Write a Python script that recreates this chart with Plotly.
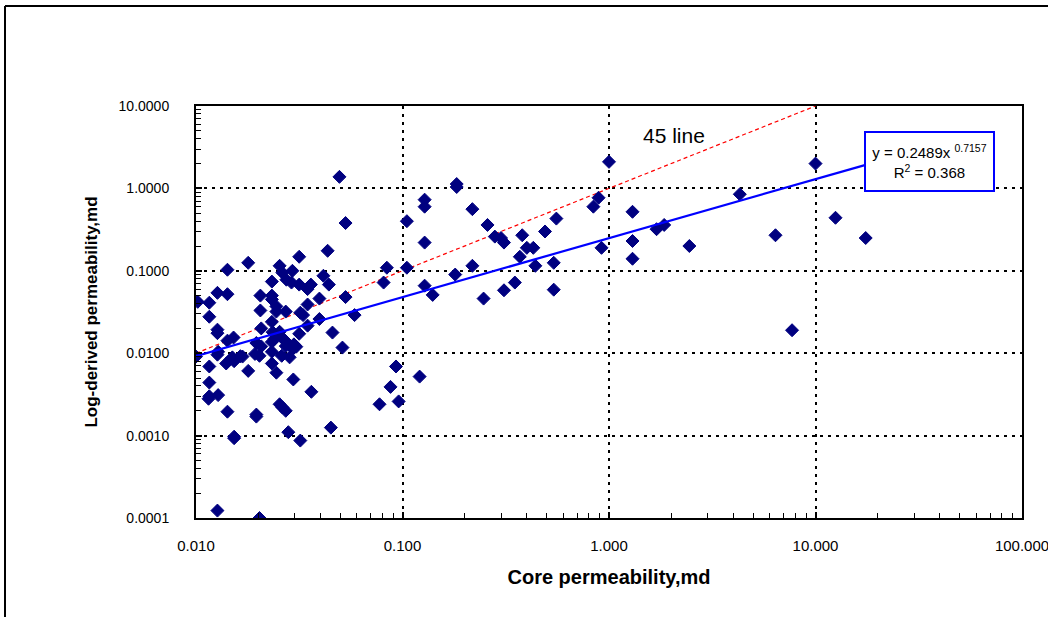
import numpy as np
import plotly.graph_objects as go

# ---- data ----
core_perm = [
    1.0, 10.0, 12.5, 17.5, 6.4, 7.7, 4.3, 2.45, 1.7, 1.85, 1.30, 1.30, 1.30,
    0.89, 0.84, 0.92, 0.183, 0.183, 0.128, 0.128, 0.105, 0.218, 0.258, 0.28, 0.30, 0.31,
    0.38, 0.40, 0.43, 0.49, 0.556, 0.37, 0.44, 0.54, 0.54, 0.35, 0.31, 0.247, 0.218, 0.18,
    0.128, 0.128, 0.14, 0.105,
    0.0495, 0.053, 0.0434, 0.0316, 0.0179, 0.0142, 0.084, 0.081, 0.0254, 0.0262, 0.0274,
    0.029, 0.0293, 0.0233, 0.0316, 0.0347, 0.036, 0.0414, 0.044, 0.0396,
    0.0127, 0.0142, 0.0102, 0.0116, 0.0205, 0.0233, 0.0233, 0.0245, 0.0245, 0.0205, 0.0272,
    0.0347, 0.032, 0.033, 0.0396, 0.053, 0.0586, 0.0116, 0.0127, 0.0127, 0.0142, 0.0152,
    0.0128, 0.015, 0.0153, 0.014, 0.0168, 0.0179, 0.0196, 0.0207, 0.0193, 0.0203, 0.0233,
    0.024, 0.0254, 0.027, 0.0233, 0.026, 0.0233, 0.0245, 0.0284, 0.0296, 0.0316, 0.0347,
    0.0458, 0.0512, 0.0296, 0.0362, 0.0116, 0.0116, 0.0116, 0.0115, 0.0128, 0.0142, 0.0196,
    0.0196, 0.0254, 0.0262, 0.0272, 0.0153, 0.0153, 0.028, 0.032, 0.045, 0.0774, 0.0875,
    0.093, 0.0958, 0.121, 0.0127, 0.0203,
    0.0233, 0.0207, 0.0235, 0.0265, 0.0272, 0.029, 0.0298, 0.0306, 0.0100, 0.0127, 0.0164,
]
log_perm = [
    2.1, 2.0, 0.44, 0.25, 0.27, 0.019, 0.85, 0.20, 0.32, 0.36, 0.52, 0.23, 0.14,
    0.77, 0.60, 0.19, 1.13, 1.04, 0.73, 0.60, 0.40, 0.56, 0.36, 0.26, 0.25, 0.22,
    0.27, 0.19, 0.19, 0.30, 0.43, 0.148, 0.115, 0.125, 0.059, 0.072, 0.058, 0.046, 0.115, 0.090,
    0.22, 0.066, 0.051, 0.109,
    1.38, 0.38, 0.175, 0.148, 0.125, 0.103, 0.109, 0.072, 0.115, 0.095, 0.078,
    0.072, 0.100, 0.074, 0.068, 0.060, 0.068, 0.087, 0.068, 0.046,
    0.054, 0.052, 0.042, 0.041, 0.050, 0.050, 0.045, 0.037, 0.032, 0.033, 0.032,
    0.039, 0.031, 0.029, 0.026, 0.048, 0.029, 0.0277, 0.0193, 0.0175, 0.0142, 0.0155,
    0.0104, 0.0089, 0.0080, 0.0075, 0.0091, 0.0061, 0.0133, 0.0121, 0.0098, 0.0093, 0.0137,
    0.0150, 0.0182, 0.0142, 0.0104, 0.0093, 0.0075, 0.0058, 0.0089, 0.0114, 0.0172, 0.0216,
    0.0178, 0.0117, 0.0048, 0.0034, 0.0069, 0.0044, 0.0030, 0.0028, 0.0031, 0.00195, 0.0018,
    0.0017, 0.0024, 0.0022, 0.0020, 0.00097, 0.00093, 0.0011, 0.00087, 0.00125, 0.0024, 0.0039,
    0.0069, 0.0026, 0.0052, 0.000123, 0.0001,
    0.024, 0.020, 0.018, 0.0148, 0.0122, 0.0119, 0.0128, 0.0120, 0.0091, 0.0096, 0.0092,
]

# power-law trendline shown on the chart: y = a * x^b
fit_a = 0.2489
fit_b = 0.7157
fit_r2 = 0.368
fit_x_range = [0.01, 17.5]

# 45-degree reference line
line45_x = [0.01, 10.0]

x_tick_vals = [0.01, 0.1, 1, 10, 100]
x_tick_text = ["0.010", "0.100", "1.000", "10.000", "100.000"]
y_tick_vals = [0.0001, 0.001, 0.01, 0.1, 1, 10]
y_tick_text = ["0.0001", "0.0010", "0.0100", "0.1000", "1.0000", "10.0000"]

FONT = "Liberation Sans, Arial, sans-serif"

fit_x = np.logspace(np.log10(fit_x_range[0]), np.log10(fit_x_range[1]), 200)
fit_y = fit_a * fit_x ** fit_b

fig = go.Figure()
fig.add_trace(go.Scatter(
    x=line45_x, y=line45_x, mode="lines",
    line=dict(color="#ff0000", width=1.2, dash="4px,3px"),
    showlegend=False, hoverinfo="skip",
))
fig.add_trace(go.Scatter(
    x=core_perm, y=log_perm, mode="markers",
    marker=dict(symbol="diamond", size=10, color="#000080",
                line=dict(color="#000080", width=1)),
    showlegend=False,
))
fig.add_trace(go.Scatter(
    x=fit_x, y=fit_y, mode="lines",
    line=dict(color="#0000ff", width=2.2),
    showlegend=False, hoverinfo="skip",
))

axis_common = dict(
    type="log",
    automargin=False,
    showline=True, linecolor="black", linewidth=2, mirror=True,
    showgrid=True, gridcolor="black", gridwidth=1.5, griddash="3px,5px",
    ticks="inside", ticklen=6, tickcolor="black", tickwidth=1.5,
    minor=dict(ticks="inside", ticklen=5, tickcolor="black", tickwidth=1.2,
               dtick="D1", showgrid=False),
    zeroline=False,
    ticklabeloverflow="allow",
)

fig.update_xaxes(
    **axis_common,
    range=[-2, 2],
    tickmode="array", tickvals=x_tick_vals, ticktext=x_tick_text,
    tickfont=dict(family=FONT, size=15, color="black"),
    ticklabelstandoff=13,
    title=dict(text="<b>Core permeability,md</b>",
               font=dict(family=FONT, size=20, color="black"), standoff=17),
)
fig.update_yaxes(
    **axis_common,
    range=[-4, 1],
    tickmode="array", tickvals=y_tick_vals, ticktext=y_tick_text,
    tickfont=dict(family=FONT, size=14, color="black"),
    ticklabelstandoff=22,
    title=dict(text="<b>Log-derived permeability,md</b>",
               font=dict(family=FONT, size=17, color="black"), standoff=17),
)

fig.add_annotation(
    x=np.log10(2.07), y=np.log10(4.4), xref="x", yref="y",
    text="45 line", showarrow=False,
    font=dict(family=FONT, size=21, color="black"),
)
fig.add_annotation(
    x=(864 - 196) / 826, y=(518 - 131) / 412, xref="paper", yref="paper",
    xanchor="left", yanchor="top",
    text=f"y = {fit_a}x <sup>{fit_b}</sup><br>R<sup>2</sup> = {fit_r2}",
    showarrow=False, align="center",
    width=125, height=55,
    bordercolor="#0000ff", borderwidth=2, bgcolor="white",
    font=dict(family=FONT, size=15, color="black"),
)

# outer chart frame (top and left edges visible in the reference)
fig.add_shape(type="line", xref="paper", yref="paper",
              x0=(5 - 196) / 826, x1=(1060 - 196) / 826,
              y0=(518 - 6) / 412, y1=(518 - 6) / 412,
              line=dict(color="black", width=2))
fig.add_shape(type="line", xref="paper", yref="paper",
              x0=(5 - 196) / 826, x1=(5 - 196) / 826,
              y0=(518 - 6) / 412, y1=(518 - 640) / 412,
              line=dict(color="black", width=2))

fig.update_layout(
    width=1048, height=617,
    margin=dict(l=196, r=26, t=106, b=99),
    plot_bgcolor="white", paper_bgcolor="white",
    font=dict(family=FONT, color="black"),
)

fig.write_html("out.html")
